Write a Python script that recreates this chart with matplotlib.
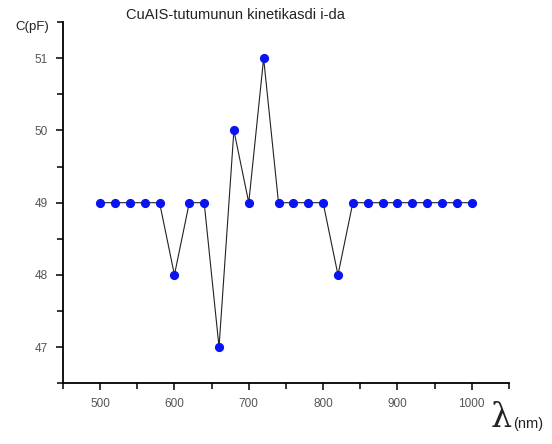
import matplotlib
matplotlib.use("Agg")
import matplotlib.pyplot as plt
from matplotlib.ticker import MultipleLocator

plt.rcParams["font.family"] = ["Liberation Sans", "DejaVu Sans"]

wavelength = [500, 520, 540, 560, 580, 600, 620, 640, 660, 680, 700, 720, 740,
              760, 780, 800, 820, 840, 860, 880, 900, 920, 940, 960, 980, 1000]
capacitance = [49, 49, 49, 49, 49, 48, 49, 49, 47, 50, 49, 51, 49,
               49, 49, 49, 48, 49, 49, 49, 49, 49, 49, 49, 49, 49]
title = "CuAIS-tutumunun kinetikasdi i-da"

fig = plt.figure(figsize=(5.52, 4.44), dpi=100)
ax = fig.add_axes([0.114, 0.137, 0.808, 0.813])
ax.plot(wavelength, capacitance, color="#222222", lw=0.8, marker="o",
        markersize=5.6, markerfacecolor="#0a14f0", markeredgecolor="#0a14f0")
ax.set_xlim(450, 1050)
ax.set_ylim(46.5, 51.5)
ax.xaxis.set_major_locator(MultipleLocator(100))
ax.xaxis.set_minor_locator(MultipleLocator(50))
ax.yaxis.set_major_locator(MultipleLocator(1))
ax.yaxis.set_minor_locator(MultipleLocator(0.5))
for s in ["top", "right"]:
    ax.spines[s].set_visible(False)
for s in ["left", "bottom"]:
    ax.spines[s].set_linewidth(1.3)
ax.tick_params(which="major", direction="out", length=5, width=1.1,
               labelsize=8.5, labelcolor="#555555", pad=6)
ax.tick_params(which="minor", direction="out", length=4, width=1.1)
ax.set_xticks(range(500, 1001, 100))
fig.text(0.426, 0.966, title, ha="center", va="center", fontsize=10.5, color="#222222")
fig.text(0.027, 0.94, "C(pF)", ha="left", va="center", fontsize=9.5, color="#222222")
fig.text(0.888, 0.038, "λ", ha="left", va="baseline", fontsize=24,
         color="#222222", family=["DejaVu Serif"])
fig.text(0.929, 0.046, "(nm)", ha="left", va="center", fontsize=10.5, color="#222222")
fig.savefig("out.png", dpi=100)
